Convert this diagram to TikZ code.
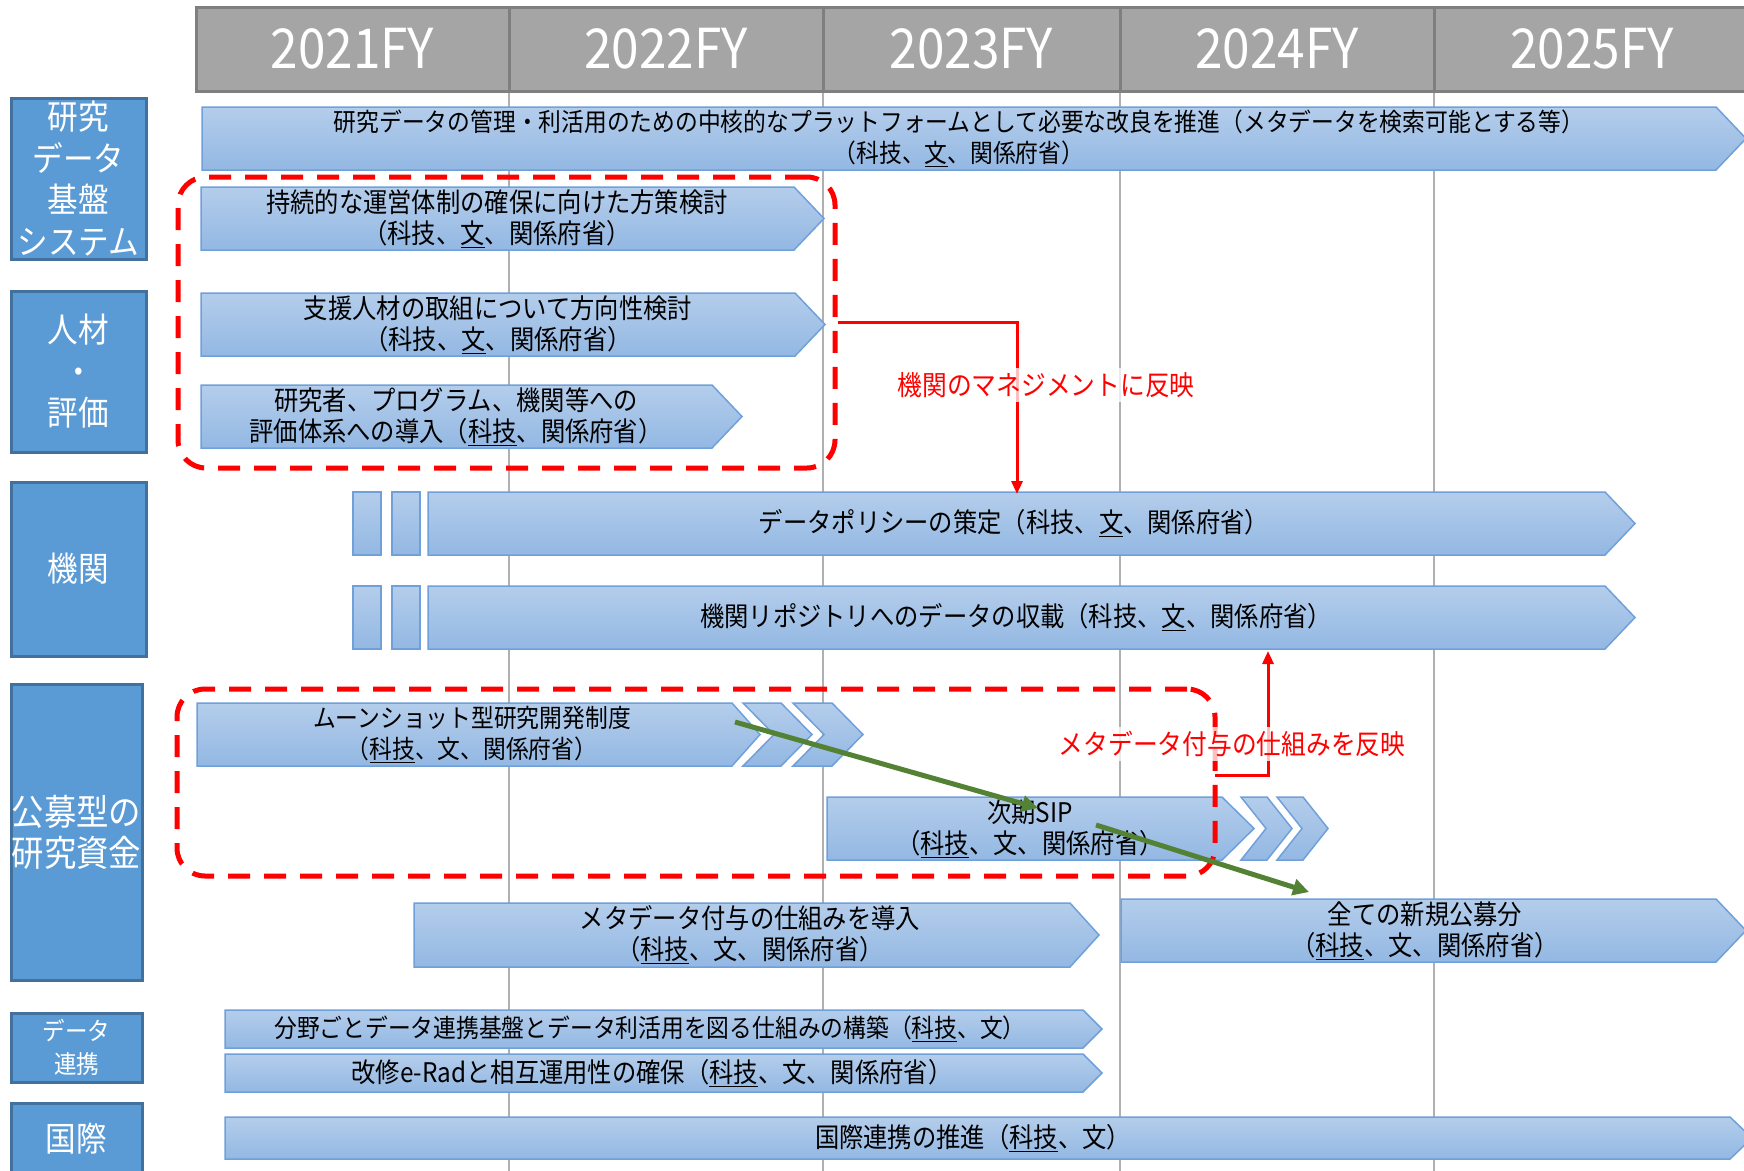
\documentclass[tikz,border=0pt]{standalone}
\usepackage{fontspec}
\usetikzlibrary{arrows.meta}
\newfontfamily\jp[FakeStretch=0.9]{Noto Sans CJK JP}
\definecolor{hdrFill}{HTML}{A5A5A5}
\definecolor{hdrLine}{HTML}{7F7F7F}
\definecolor{catFill}{HTML}{5B9BD5}
\definecolor{catLine}{HTML}{41719C}
\definecolor{barTop}{HTML}{B4CDEB}
\definecolor{barBot}{HTML}{93B8E3}
\definecolor{barLine}{HTML}{6FA0DA}
\definecolor{grn}{HTML}{548235}
\definecolor{gridGray}{HTML}{B0B0B0}
\definecolor{redc}{HTML}{FF0000}
\newcommand\ul[1]{\underline{#1}}
\tikzset{
 hdr/.style={draw=hdrLine, fill=hdrFill, line width=3pt, text=white, font=\jp\fontsize{55}{55}\selectfont, inner sep=0, minimum height=84},
 cat/.style={draw=catLine, fill=catFill, line width=3pt, text=white, align=center, inner sep=0, font=\jp\fontsize{34}{41.5}\selectfont},
 barshape/.style={draw=barLine, line width=1.5pt, top color=barTop, bottom color=barBot},
 bartext/.style={align=center, inner sep=0, font=\jp\fontsize{27}{31}\selectfont},
 smalltext/.style={bartext, font=\jp\fontsize{25.3}{31}\selectfont},
 redbox/.style={draw=redc, line width=5pt, dash pattern=on 22pt off 14pt, rounded corners=28pt, inner sep=0},
 redarr/.style={draw=redc, line width=3pt, -{Triangle[length=13pt,width=11pt]}},
 redlab/.style={text=redc, fill=white, fill opacity=0.75, text opacity=1, inner sep=4pt, font=\jp\fontsize{27.5}{30}\selectfont},
 grnarr/.style={draw=grn, line width=5pt, -{Triangle[length=16pt,width=16pt]}},
 gridline/.style={draw=gridGray, line width=1.5pt}
}
% name, x1, y1, x shoulder, x tip, y2, text x, text  (optional style for text)
\newcommand\pbar[9][bartext]{%
  \path[barshape] (#3,#4) -- (#5,#4) -- (#6,{(#4+#7)/2}) -- (#5,#7) -- (#3,#7) -- cycle;
  \node[#1] (#2) at (#8,{(#4+#7)/2}) {#9};}
% x1, x2, xtip, y1, y2
\newcommand\chev[5]{%
  \path[barshape] (#1,#4) -- (#2,#4) -- (#3,{(#4+#5)/2}) -- (#2,#5) -- (#1,#5) -- ({#1+#3-#2},{(#4+#5)/2}) -- cycle;}
\begin{document}
\begin{tikzpicture}[x=1pt,y=-1pt]
\useasboundingbox (0,0) rectangle (1744,1170);
\clip (0,0) rectangle (1744,1170);
\fill[white] (0,0) rectangle (1744,1170);
% grid lines
\foreach \gx in {509,823,1120,1434} {\draw[gridline] (\gx,91) -- (\gx,1172);}
% header
\node[hdr, minimum width=313] (h1) at (352.5,49) {2021FY};
\node[hdr, minimum width=314] (h2) at (666,49) {2022FY};
\node[hdr, minimum width=297] (h3) at (971.5,49) {2023FY};
\node[hdr, minimum width=314] (h4) at (1277,49) {2024FY};
\node[hdr, minimum width=316] (h5) at (1592,49) {2025FY};
% categories
\node[cat, minimum width=135, minimum height=161] (c1) at (78.5,178.5) {研究\\データ\\基盤\\システム};
\node[cat, minimum width=135, minimum height=161] (c2) at (78.5,371.5) {人材\\・\\評価};
\node[cat, minimum width=135, minimum height=174] (c3) at (78.5,569) {機関};
\node[cat, minimum width=131, minimum height=296, font=\jp\fontsize{36}{41}\selectfont] (c4) at (76.5,832) {公募型の\\研究資金};
\node[cat, minimum width=131, minimum height=69, font=\jp\fontsize{25}{33}\selectfont] (c5) at (76.5,1047.5) {データ\\連携};
\node[cat, minimum width=131, minimum height=80] (c6) at (76.5,1143) {};
\node[text=white, font=\jp\fontsize{34}{40}\selectfont, inner sep=0] (c6t) at (76.5,1139) {国際};
% bars
\pbar[smalltext]{a1}{202}{107}{1716}{1746}{170}{959}{研究データの管理・利活用のための中核的なプラットフォームとして必要な改良を推進（メタデータを検索可能とする等）\\（科技、\ul{文}、関係府省）}
\pbar{a2}{201}{187}{794}{824}{250}{497}{持続的な運営体制の確保に向けた方策検討\\（科技、\ul{文}、関係府省）}
\pbar{a3}{201}{293}{795}{825}{356}{498}{支援人材の取組について方向性検討\\（科技、\ul{文}、関係府省）}
\pbar{a4}{201}{385}{712}{742}{448}{456}{研究者、プログラム、機関等への\\評価体系への導入（\ul{科技}、関係府省）}
\path[barshape] (353,492) rectangle (381,555);
\path[barshape] (392,492) rectangle (420,555);
\pbar{b1}{428}{492}{1605}{1635}{555}{1014}{データポリシーの策定（科技、\ul{文}、関係府省）}
\path[barshape] (353,586) rectangle (381,649);
\path[barshape] (392,586) rectangle (420,649);
\pbar{b2}{428}{586}{1605}{1635}{649}{1016}{機関リポジトリへのデータの収載（科技、\ul{文}、関係府省）}
\pbar[smalltext]{m1}{197}{703}{732}{760}{766}{472}{ムーンショット型研究開発制度\\（\ul{科技}、文、関係府省）}
\chev{743}{781}{812}{703}{766}
\chev{793}{832}{863}{703}{766}
\pbar{s1}{827}{797}{1222}{1254}{860}{1030}{次期SIP\\（\ul{科技}、文、関係府省）}
\chev{1241}{1267}{1292}{797}{860}
\chev{1277}{1303}{1328}{797}{860}
\pbar{t1}{414}{903}{1070}{1099}{967}{750}{メタデータ付与の仕組みを導入\\（\ul{科技}、文、関係府省）}
\pbar{t2}{1121}{899}{1716}{1746}{962}{1425}{全ての新規公募分\\（\ul{科技}、文、関係府省）}
\pbar[smalltext]{d1}{225}{1010}{1083}{1102}{1048}{650}{分野ごとデータ連携基盤とデータ利活用を図る仕組みの構築（\ul{科技}、文）}
\pbar{d2}{225}{1054}{1083}{1102}{1092}{652}{改修e-Radと相互運用性の確保（\ul{科技}、文、関係府省）}
\pbar{e1}{225}{1117}{1730}{1752}{1159}{973}{国際連携の推進（\ul{科技}、文）}
% dashed groups
\node[redbox, minimum width=657, minimum height=291] (box1) at (506.5,322.5) {};
\node[redbox, minimum width=1038, minimum height=187] (box2) at (696,782.5) {};
% red connectors
\coordinate (r1) at (1017,494);
\draw[redarr] (box1.east) -| (r1);
\coordinate (r2s) at (1215,775);
\coordinate (r2) at (1268,651);
\draw[redarr] (r2s) -| (r2);
\node[redlab] (l1) at (1046,385) {機関のマネジメントに反映};
\node[redlab] (l2) at (1232,744) {メタデータ付与の仕組みを反映};
% green arrows
\coordinate (g1s) at (735,722);
\coordinate (g1e) at (1038,808);
\coordinate (g2s) at (1096,825);
\coordinate (g2e) at (1309,892);
\draw[grnarr] (g1s) -- (g1e);
\draw[grnarr] (g2s) -- (g2e);
\end{tikzpicture}
\end{document}
